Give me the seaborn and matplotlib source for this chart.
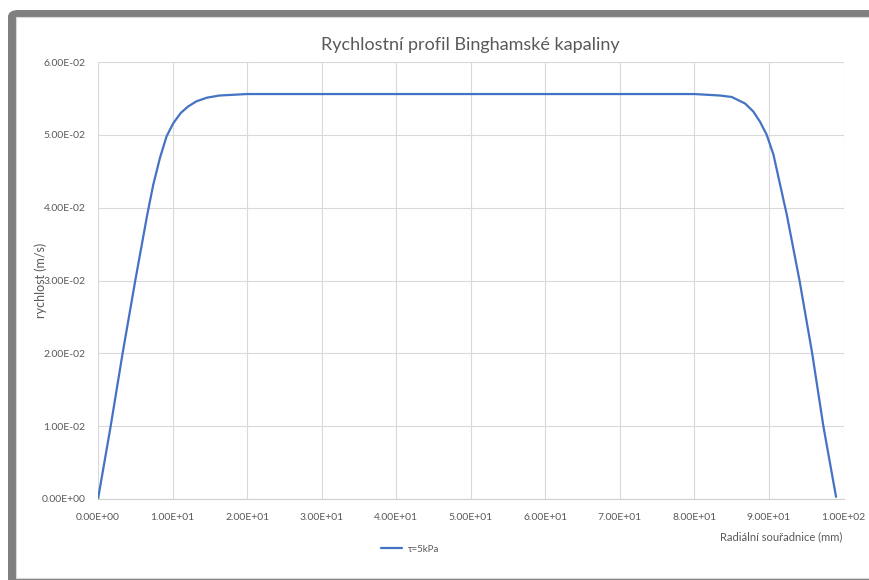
import numpy as np
import pandas as pd
import matplotlib
matplotlib.use("Agg")
import matplotlib.pyplot as plt
import seaborn as sns
from matplotlib.patches import FancyBboxPatch, Rectangle
from matplotlib.ticker import FuncFormatter

# data
radius_mm = [0, 1.7, 3.3, 5.0, 6.6, 7.4, 8.3, 9.2, 10.1, 11.1, 12.1, 13.2, 14.6, 16.3,
             20, 30, 40, 50, 60, 70, 80, 83.4, 85.0, 86.8, 87.9, 88.8, 89.7, 90.6,
             91.4, 92.4, 94.1, 95.8, 97.3, 99.0]
velocity = [0, 0.01, 0.02, 0.03, 0.039, 0.0431, 0.0468, 0.0498, 0.0516, 0.0530, 0.0539,
            0.0546, 0.0551, 0.0554, 0.0556, 0.0556, 0.0556, 0.0556, 0.0556, 0.0556, 0.0556,
            0.0554, 0.0552, 0.0543, 0.0532, 0.0518, 0.0500, 0.0473, 0.0436, 0.0390,
            0.03, 0.02, 0.01, 0.0003]
series_name = "τ=5kPa"
x_ticks = [0, 10, 20, 30, 40, 50, 60, 70, 80, 90, 100]
y_ticks = [0, 0.01, 0.02, 0.03, 0.04, 0.05, 0.06]

df = pd.DataFrame({"r": radius_mm, "v": velocity})

sns.set_style("whitegrid", {"grid.color": "#d9d9d9", "axes.edgecolor": "#d9d9d9"})
plt.rcParams['font.family'] = ['Lato', 'DejaVu Sans']

W, H = 869, 580
fig = plt.figure(figsize=(W / 100, H / 100), dpi=100)

# screenshot frame
fig.patches.append(FancyBboxPatch((8 / W, -0.05), 1.1, (H - 10) / H + 0.05,
                                  boxstyle="round,pad=0,rounding_size=0.012",
                                  transform=fig.transFigure, facecolor="#808080",
                                  edgecolor="none", zorder=-2))
fig.patches.append(Rectangle((16 / W, 2 / H), 1.0, (H - 19) / H,
                             transform=fig.transFigure, facecolor="white",
                             edgecolor="#d9d9d9", linewidth=0.8, zorder=-1))

ax = fig.add_axes([98 / W, 81 / H, (843.5 - 98) / W, (499 - 62) / H])
ax.set_facecolor("none")
sns.lineplot(data=df, x="r", y="v", ax=ax, color="#4472c4", linewidth=1.6,
             label=series_name, sort=False)

ax.set_xlim(0, 100)
ax.set_ylim(0, 0.06)
ax.set_xticks(x_ticks)
ax.set_yticks(y_ticks)
fmt = FuncFormatter(lambda v, p: "{:.2E}".format(v))
ax.xaxis.set_major_formatter(fmt)
ax.yaxis.set_major_formatter(fmt)
ax.tick_params(axis="both", length=0, labelsize=7.5, labelcolor="#595959")
ax.tick_params(axis="x", pad=10)
ax.tick_params(axis="y", pad=9)
ax.grid(True, color="#d9d9d9", linewidth=0.8)
for s in ["top", "right", "left"]:
    ax.spines[s].set_visible(False)
ax.spines["bottom"].set_color("#d0d0d0")
ax.set_xlabel("")
ax.set_ylabel("")

fig.text(470 / W, 1 - 45 / H, "Rychlostní profil Binghamské kapaliny", ha="center",
         va="center", fontsize=13, color="#595959")
fig.text(41 / W, 1 - 280 / H, "rychlost (m/s)", rotation=90, ha="center", va="center",
         fontsize=9, color="#595959")
fig.text(842 / W, 1 - 537 / H, "Radiální souřadnice (mm)", ha="right", va="center",
         fontsize=8, color="#595959")

ax.get_legend().remove()
h, l = ax.get_legend_handles_labels()
fig.legend(h, l, loc="center", bbox_to_anchor=(410 / W, 1 - 549 / H), frameon=False,
           fontsize=7, labelcolor="#595959", handlelength=2.2, handletextpad=0.6)

fig.savefig("out.png", dpi=100, facecolor="white")
